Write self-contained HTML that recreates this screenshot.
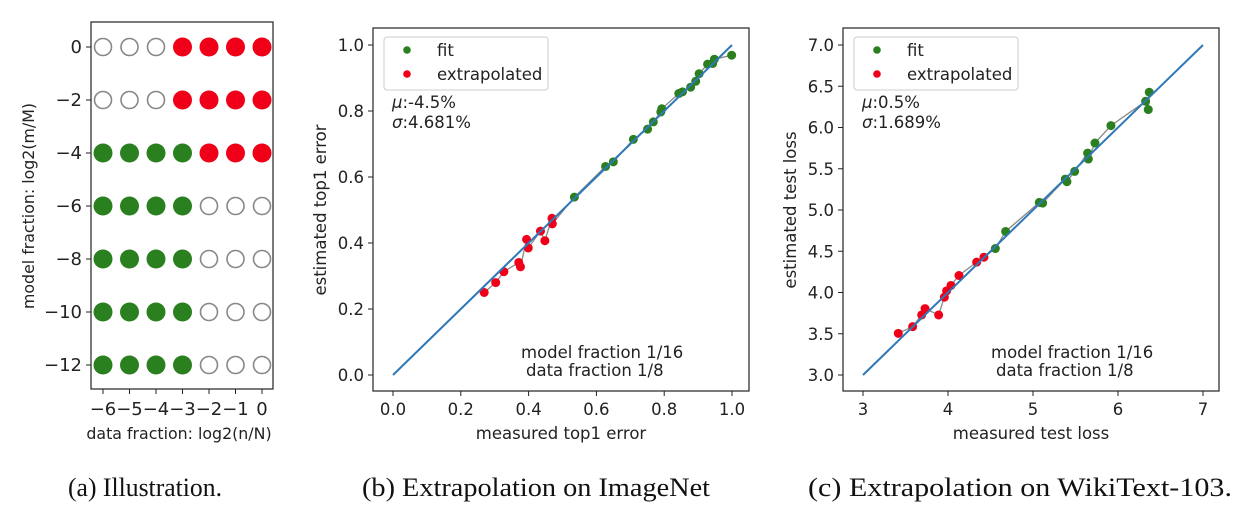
<!DOCTYPE html>
<html><head><meta charset="utf-8">
<style>
body{margin:0;background:#fff;}
svg text{font-family:"DejaVu Sans","Liberation Sans",sans-serif;fill:#222;}
.cap{font-family:"Liberation Serif",serif;font-size:26px;fill:#111;}
</style></head>
<body>
<svg id="fig" width="1254" height="522" viewBox="0 0 1254 522" xmlns="http://www.w3.org/2000/svg">
<text class="cap" x="68" y="496" textLength="154" lengthAdjust="spacingAndGlyphs">(a) Illustration.</text>
<text class="cap" x="362" y="496" textLength="348" lengthAdjust="spacingAndGlyphs">(b) Extrapolation on ImageNet</text>
<text class="cap" x="808" y="496" textLength="424" lengthAdjust="spacingAndGlyphs">(c) Extrapolation on WikiText-103.</text>
</svg>
<script>
// Panel a data
const aDataTicks=[-6,-5,-4,-3,-2,-1,0];
const aModelTicks=[0,-2,-4,-6,-8,-10,-12];
// status per row (model), per column (data): 0 empty, 1 fit, 2 extrapolated
const aStatus=[[0,0,0,2,2,2,2],[0,0,0,2,2,2,2],[1,1,1,1,2,2,2],[1,1,1,1,0,0,0],[1,1,1,1,0,0,0],[1,1,1,1,0,0,0],[1,1,1,1,0,0,0]];

// Panel b data
const bFitX=[0.535,0.627,0.650,0.709,0.751,0.768,0.790,0.793,0.843,0.854,0.878,0.893,0.903,0.928,0.943,0.948,0.999];
const bFitY=[0.539,0.632,0.646,0.714,0.745,0.767,0.797,0.807,0.853,0.858,0.872,0.890,0.913,0.942,0.944,0.957,0.969];
const bExtX=[0.269,0.303,0.327,0.371,0.376,0.394,0.399,0.435,0.448,0.469,0.470];
const bExtY=[0.250,0.280,0.313,0.341,0.328,0.411,0.385,0.436,0.407,0.475,0.458];
const bTicks=[0,0.2,0.4,0.6,0.8,1.0];
const bTickLabels=["0.0","0.2","0.4","0.6","0.8","1.0"];

// Panel c data
const cFitX=[4.557,4.678,5.074,5.113,5.380,5.399,5.490,5.643,5.651,5.729,5.917,6.325,6.368,6.356];
const cFitY=[4.533,4.740,5.092,5.084,5.375,5.343,5.468,5.690,5.618,5.812,6.023,6.318,6.428,6.217];
const cExtX=[3.415,3.584,3.690,3.730,3.890,3.957,3.984,4.035,4.129,4.337,4.423];
const cExtY=[3.505,3.586,3.728,3.805,3.728,3.943,4.020,4.085,4.206,4.368,4.428];
const cXTicks=[3,4,5,6,7];
const cXTickLabels=["3","4","5","6","7"];
const cYTicks=[3.0,3.5,4.0,4.5,5.0,5.5,6.0,6.5,7.0];
const cYTickLabels=["3.0","3.5","4.0","4.5","5.0","5.5","6.0","6.5","7.0"];

const NS="http://www.w3.org/2000/svg";
const svg=document.getElementById('fig');
function mk(tag,attrs,parent){const e=document.createElementNS(NS,tag);for(const k in attrs)e.setAttribute(k,attrs[k]);(parent||svg).appendChild(e);return e;}
function txt(s,attrs,parent){const e=mk('text',attrs,parent);e.textContent=s;return e;}
const GREEN='#2a7f1f',RED='#f00018';
const FS=16.5;

// ---- Panel a
(function(){
  const g=mk('g',{});
  
  
  const sx=v=>103+(v+6)*(262-103)/6, sy=v=>47+(0-v)*(365-47)/12;
  const fr=mk('rect',{x:91,y:22,width:182,height:367,fill:'none',stroke:'#222','stroke-width':1.2},g);
  
  
  aModelTicks.forEach((m,i)=>{
    mk('line',{x1:86,x2:91,y1:sy(m),y2:sy(m),stroke:'#222'},g);
    const t=txt(String(m).replace('-','\u2212'),{x:82,y:sy(m)+6,'text-anchor':'end','font-size':18},g);
    
    
    aDataTicks.forEach((n,j)=>{
      const s=aStatus[i][j];
      const c=mk('circle',{cx:sx(n),cy:sy(m),r:s?9.5:8.5,fill:s==1?GREEN:s==2?RED:'none',stroke:s?'none':'#888','stroke-width':1.6},g);
      
      
    });
  });
  aDataTicks.forEach(n=>{
    mk('line',{x1:sx(n),x2:sx(n),y1:389,y2:394,stroke:'#222'},g);
    const t=txt(String(n).replace('-','\u2212'),{x:sx(n),y:415,'text-anchor':'middle','font-size':18},g);
    
    
  });
  const xl=txt('data fraction: log2(n/N)',{x:179,y:439,'text-anchor':'middle','font-size':15.8},g);
  
  
  const yl=txt('model fraction: log2(m/M)',{x:0,y:0,'text-anchor':'middle','font-size':15.8,transform:'translate(34,206) rotate(-90)'},g);
  
  
})();

// ---- scatter panels
function panel(o){
  const g=mk('g',{});
  
  
  const sx=v=>o.x0+(v-o.xmin)*(o.x1-o.x0)/(o.xmax-o.xmin);
  const sy=v=>o.y0-(v-o.ymin)*(o.y0-o.y1)/(o.ymax-o.ymin);
  const fr=mk('rect',{x:o.L,y:28,width:o.R-o.L,height:363,fill:'none',stroke:'#222','stroke-width':1.2},g);
  
  
  o.xt.forEach((v,i)=>{
    mk('line',{x1:sx(v),x2:sx(v),y1:391,y2:396,stroke:'#222'},g);
    const t=txt(o.xl[i],{x:sx(v),y:415,'text-anchor':'middle','font-size':FS},g);
    
    
  });
  o.yt.forEach((v,i)=>{
    mk('line',{x1:o.L-5,x2:o.L,y1:sy(v),y2:sy(v),stroke:'#222'},g);
    const t=txt(o.yl[i],{x:o.L-9,y:sy(v)+6,'text-anchor':'end','font-size':FS},g);
    
    
  });
  const xt=txt(o.xtitle,{x:(o.L+o.R)/2,y:439,'text-anchor':'middle','font-size':FS},g);
  
  
  const yt=txt(o.ytitle,{x:0,y:0,'text-anchor':'middle','font-size':FS,transform:`translate(${o.L-47},210) rotate(-90)`},g);
  
  
  const pts=o.ex.map((x,i)=>[x,o.ey[i]]).concat(o.fx.map((x,i)=>[x,o.fy[i]])).sort((a,b)=>a[0]-b[0]);
  const pl=mk('polyline',{points:pts.map(p=>sx(p[0])+','+sy(p[1])).join(' '),fill:'none',stroke:'#888','stroke-width':1.3},g);
  
  
  o.fx.forEach((x,i)=>{const c=mk('circle',{cx:sx(x),cy:sy(o.fy[i]),r:4.5,fill:GREEN},g);
    
    });
  o.ex.forEach((x,i)=>{const c=mk('circle',{cx:sx(x),cy:sy(o.ey[i]),r:4.5,fill:RED},g);
    
    });
  const id=mk('line',{x1:sx(o.xmin),y1:sy(o.ymin),x2:sx(o.xmax),y2:sy(o.ymax),stroke:'#2f78b8','stroke-width':2},g);
  
  
  const lg=mk('g',{},g);
  
  
  mk('rect',{x:o.L+11,y:37,width:164,height:53,rx:3,fill:'#fff',stroke:'#ccc'},lg);
  mk('circle',{cx:o.L+34,cy:50,r:3.8,fill:GREEN},lg);
  mk('circle',{cx:o.L+34,cy:74,r:3.8,fill:RED},lg);
  const l1=txt('fit',{x:o.L+64,y:56,'font-size':FS},lg);
  
  
  const l2=txt('extrapolated',{x:o.L+64,y:80,'font-size':FS},lg);
  
  
  const m=txt('',{x:o.L+19,y:108,'font-size':FS},g);
  m.innerHTML='<tspan font-style="italic">μ</tspan>:'+o.mu;
  
  
  const s=txt('',{x:o.L+19,y:128,'font-size':FS},g);
  s.innerHTML='<tspan font-style="italic">σ</tspan>:'+o.sd;
  
  
  const a1=txt('model fraction 1/16',{x:o.L+148,y:358,'font-size':FS},g);
  
  
  const a2=txt('data fraction 1/8',{x:o.L+153,y:376,'font-size':FS},g);
  
  
}
panel({name:'panel-b-imagenet',L:373,R:749,x0:393,x1:732,xmin:0,xmax:1,y0:375,y1:45,ymin:0,ymax:1,
  xt:bTicks,xl:bTickLabels,yt:bTicks,yl:bTickLabels,xtitle:'measured top1 error',ytitle:'estimated top1 error',
  fx:bFitX,fy:bFitY,ex:bExtX,ey:bExtY,mu:'-4.5%',sd:'4.681%'});
panel({name:'panel-c-wikitext',L:843,R:1219,x0:863,x1:1203,xmin:3,xmax:7,y0:375,y1:45,ymin:3,ymax:7,
  xt:cXTicks,xl:cXTickLabels,yt:cYTicks,yl:cYTickLabels,xtitle:'measured test loss',ytitle:'estimated test loss',
  fx:cFitX,fy:cFitY,ex:cExtX,ey:cExtY,mu:'0.5%',sd:'1.689%'});
</script>
</body></html>
